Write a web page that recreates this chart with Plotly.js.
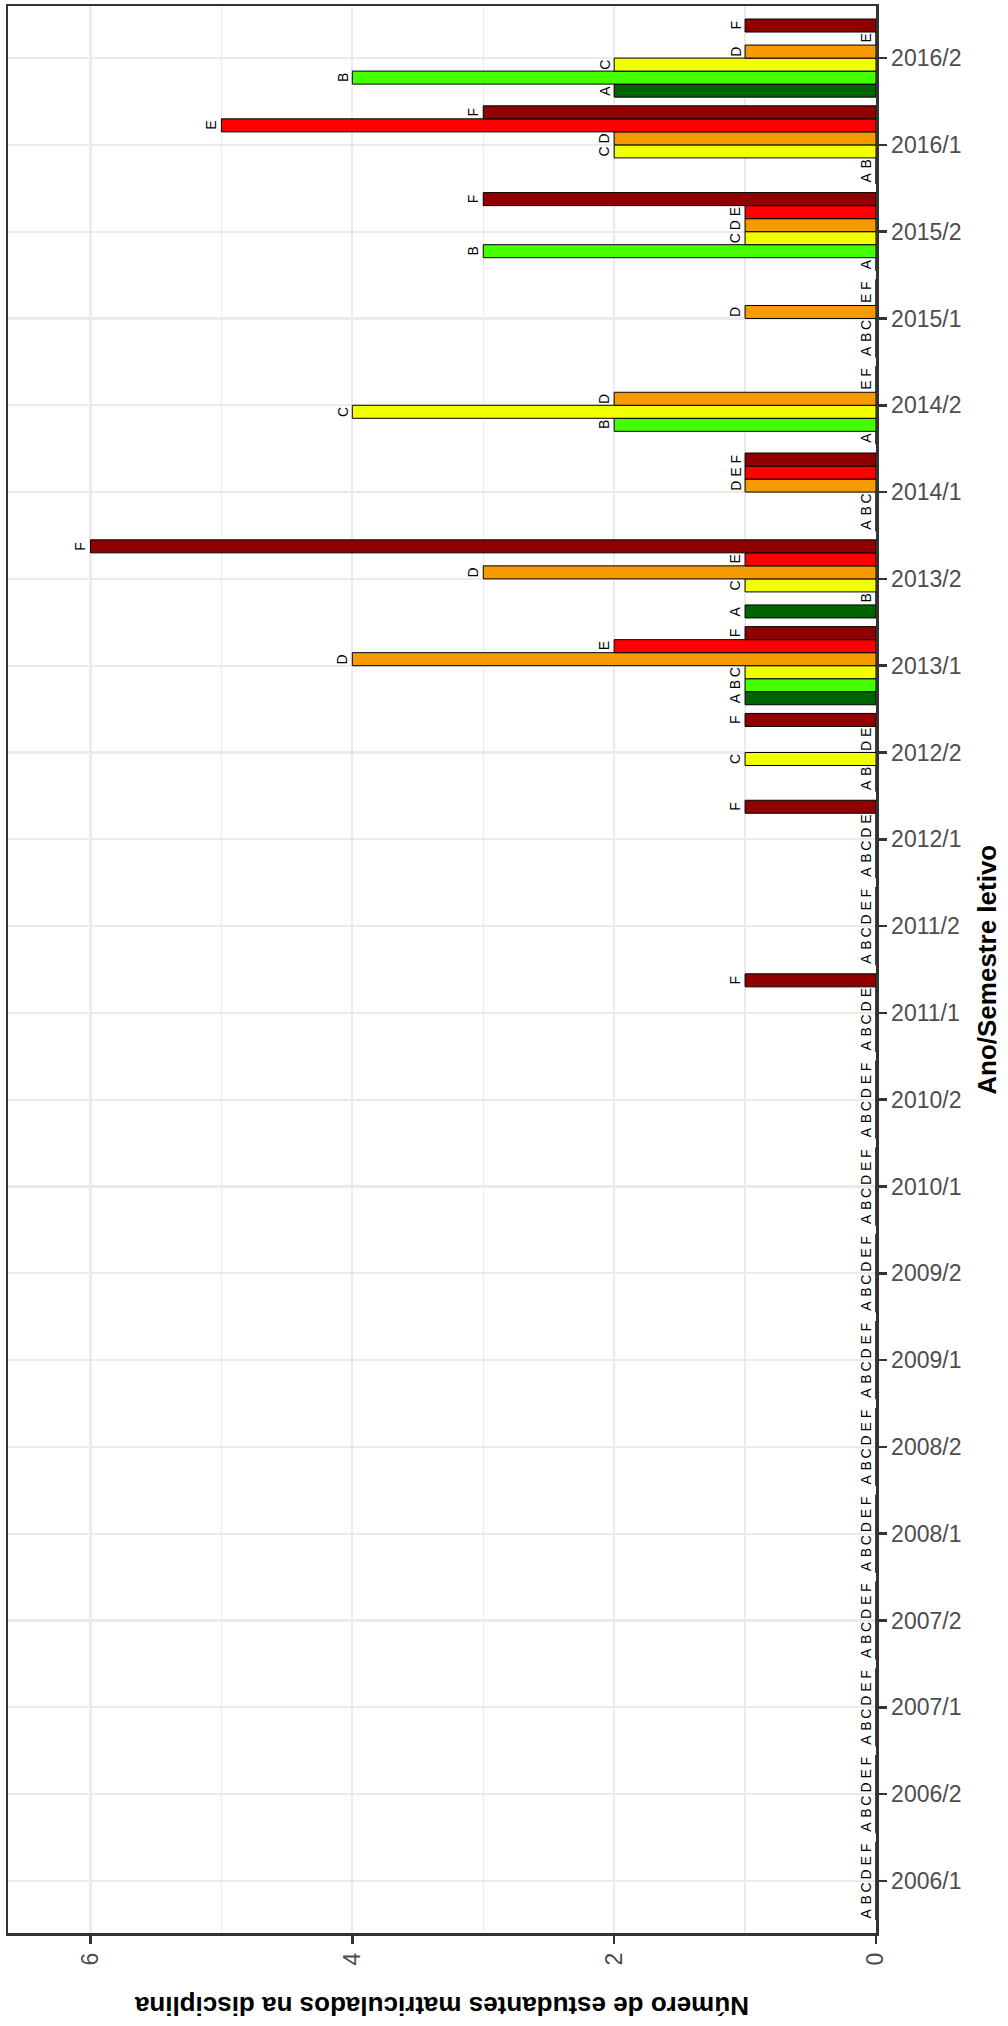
<!DOCTYPE html>
<html>
<head>
<meta charset="utf-8">
<script src="https://cdn.plot.ly/plotly-3.0.1.min.js"></script>
<style>
  html, body { margin: 0; padding: 0; background: #ffffff; }
  #chart { width: 1008px; height: 2026px; }
</style>
</head>
<body>
<div id="chart"></div>
<script>
// Semesters (bottom to top)
const semesters = ["2006/1","2006/2","2007/1","2007/2","2008/1","2008/2","2009/1","2009/2",
  "2010/1","2010/2","2011/1","2011/2","2012/1","2012/2","2013/1","2013/2",
  "2014/1","2014/2","2015/1","2015/2","2016/1","2016/2"];

const seriesNames = ["A","B","C","D","E","F"];
const seriesColors = ["#006400","#44FF00","#F2FF00","#F59B00","#FF0000","#900000"];

//            06/1 06/2 07/1 07/2 08/1 08/2 09/1 09/2 10/1 10/2 11/1 11/2 12/1 12/2 13/1 13/2 14/1 14/2 15/1 15/2 16/1 16/2
const valuesA = [0,0,0,0,0,0,0,0,0,0,0,0,0,0,1,1,0,0,0,0,0,2];
const valuesB = [0,0,0,0,0,0,0,0,0,0,0,0,0,0,1,0,0,2,0,3,0,4];
const valuesC = [0,0,0,0,0,0,0,0,0,0,0,0,0,1,1,1,0,4,0,1,2,2];
const valuesD = [0,0,0,0,0,0,0,0,0,0,0,0,0,0,4,3,1,2,1,1,2,1];
const valuesE = [0,0,0,0,0,0,0,0,0,0,0,0,0,0,2,1,1,0,0,1,5,0];
const valuesF = [0,0,0,0,0,0,0,0,0,0,1,0,1,1,1,6,1,0,0,3,3,1];

const allValues = [valuesA, valuesB, valuesC, valuesD, valuesE, valuesF];

const idx = semesters.map((s, i) => i);
const bargap = 0.1;
const barW = (1 - bargap) / seriesNames.length;

const traces = seriesNames.map((name, k) => ({
  type: "bar",
  orientation: "h",
  name: name,
  x: allValues[k],
  y: idx,
  marker: { color: seriesColors[k], line: { color: "#000000", width: 1 } },
  hoverinfo: "x+name"
}));

const annotations = [];
seriesNames.forEach((name, k) => {
  allValues[k].forEach((v, i) => {
    annotations.push({
      xref: "x", yref: "y",
      x: v,
      y: i + (k - (seriesNames.length - 1) / 2) * barW,
      text: name,
      showarrow: false,
      textangle: -90,
      xanchor: "right",
      yanchor: "middle",
      xshift: -1,
      borderpad: 0,
      font: { family: "Liberation Sans, Arial, sans-serif", size: 14, color: "#000000" }
    });
  });
});

annotations.push({
  xref: "paper", yref: "paper",
  x: 0.5, y: -0.0379,
  text: "Número de estudantes matriculados na disciplina",
  showarrow: false, textangle: 180,
  xanchor: "center", yanchor: "middle",
  font: { family: "Liberation Sans, Arial, sans-serif", size: 26, color: "#000000", weight: "bold" }
});
annotations.push({
  xref: "paper", yref: "paper",
  x: 1.127, y: 0.5,
  text: "Ano/Semestre letivo",
  showarrow: false, textangle: -90,
  xanchor: "center", yanchor: "middle",
  borderpad: 0,
  font: { family: "Liberation Sans, Arial, sans-serif", size: 26, color: "#000000", weight: "bold" }
});

const layout = {
  width: 1008, height: 2026,
  margin: { l: 8, r: 132, t: 6, b: 93 },
  paper_bgcolor: "#ffffff",
  plot_bgcolor: "#ffffff",
  showlegend: false,
  barmode: "group",
  bargap: bargap,
  bargroupgap: 0,
  font: { family: "Liberation Sans, Arial, sans-serif", color: "#4d4d4d" },
  xaxis: {
    range: [6.63, 0],
    tick0: 0, dtick: 2,
    tickangle: -90,
    tickfont: { size: 23, color: "#4d4d4d" },
    ticks: "outside", ticklen: 8, tickwidth: 2.5, tickcolor: "#333333",
    showgrid: true, gridcolor: "#EBEBEB", gridwidth: 2.2,
    minor: { dtick: 1, showgrid: true, gridcolor: "#EBEBEB", gridwidth: 1.2, ticks: "" },
    zeroline: false,
    showline: true, mirror: true, linecolor: "#333333", linewidth: 2.5,
    fixedrange: true
  },
  yaxis: {
    range: [-0.6, 21.6],
    side: "right",
    tickmode: "array",
    tickvals: idx,
    ticktext: semesters,
    tickfont: { size: 23, color: "#4d4d4d" },
    ticks: "outside", ticklen: 8, tickwidth: 2.5, tickcolor: "#333333",
    showgrid: true, gridcolor: "#EBEBEB", gridwidth: 2.2,
    zeroline: false,
    showline: true, mirror: true, linecolor: "#333333", linewidth: 2.5,
    fixedrange: true
  },
  annotations: annotations
};

Plotly.newPlot("chart", traces, layout, { displayModeBar: false, staticPlot: true });
</script>
</body>
</html>
